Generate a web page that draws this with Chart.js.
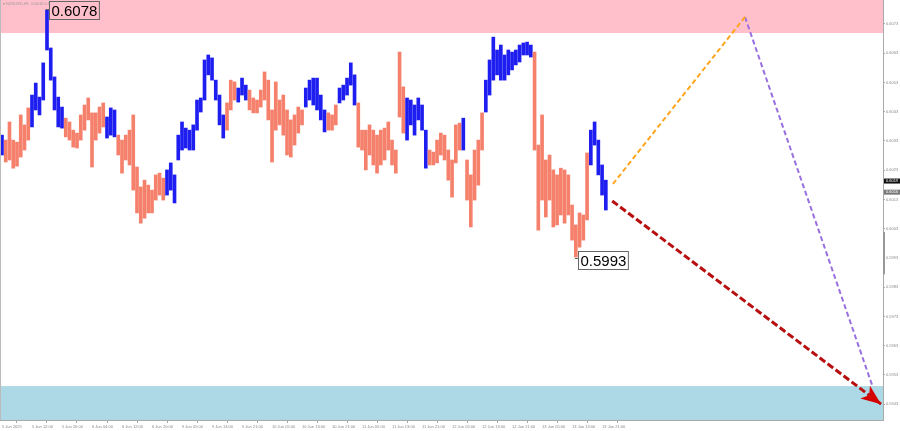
<!DOCTYPE html>
<html><head><meta charset="utf-8">
<script src="https://cdn.jsdelivr.net/npm/chart.js@4.4.1/dist/chart.umd.min.js"></script>
<style>html,body{margin:0;padding:0;background:#fff;overflow:hidden}#wrap{width:900px;height:431px;position:relative}</style>
</head><body><div id="wrap"><canvas id="c" width="900" height="431"></canvas></div>
<script>
// ---- data (NZDUSD H1) ----
const highs = [
0.60350,0.60333,0.60395,0.60333,0.60326,0.60419,0.60385,0.60443,0.60487,0.60528,
0.60480,0.60597,0.60778,0.60648,0.60549,0.60480,0.60446,0.60408,0.60395,0.60367,
0.60357,0.60419,0.60453,0.60477,0.60426,0.60426,0.60446,0.60460,0.60412,0.60443,
0.60436,0.60350,0.60333,0.60350,0.60367,0.60419,0.60241,0.60173,0.60196,0.60179,
0.60162,0.60214,0.60220,0.60203,0.60231,0.60255,0.60214,0.60350,0.60395,0.60374,
0.60367,0.60385,0.60470,0.60477,0.60607,0.60624,0.60614,0.60538,0.60487,0.60419,
0.60460,0.60538,0.60532,0.60511,0.60545,0.60521,0.60504,0.60477,0.60470,0.60504,
0.60566,0.60538,0.60436,0.60532,0.60470,0.60487,0.60436,0.60402,0.60419,0.60446,
0.60436,0.60511,0.60538,0.60545,0.60545,0.60487,0.60436,0.60426,0.60419,0.60453,
0.60511,0.60521,0.60545,0.60597,0.60556,0.60460,0.60367,0.60367,0.60385,0.60367,
0.60350,0.60367,0.60374,0.60395,0.60333,0.60299,0.60634,0.60515,0.60477,0.60470,
0.60453,0.60477,0.60453,0.60367,0.60299,0.60292,0.60333,0.60357,0.60350,0.60299,
0.60265,0.60385,0.60391,0.60408,0.60265,0.60214,0.60299,0.60333,0.60426,0.60538,
0.60607,0.60685,0.60641,0.60658,0.60624,0.60641,0.60634,0.60641,0.60658,0.60665,
0.60668,0.60658,0.60634,0.60316,0.60419,0.60265,0.60282,0.60231,0.60214,0.60237,
0.60231,0.60214,0.60111,0.60043,0.60084,0.60077,0.60289,0.60367,0.60395,0.60333,
0.60248,0.60196];
const lows = [
0.60282,0.60258,0.60265,0.60237,0.60244,0.60275,0.60299,0.60333,0.60378,0.60436,
0.60419,0.60470,0.60641,0.60538,0.60436,0.60378,0.60374,0.60344,0.60333,0.60309,
0.60306,0.60333,0.60367,0.60402,0.60241,0.60333,0.60357,0.60378,0.60340,0.60350,
0.60344,0.60282,0.60220,0.60265,0.60248,0.60162,0.60084,0.60049,0.60066,0.60084,
0.60084,0.60128,0.60145,0.60128,0.60145,0.60162,0.60118,0.60265,0.60299,0.60306,
0.60299,0.60299,0.60367,0.60429,0.60470,0.60556,0.60538,0.60470,0.60385,0.60340,
0.60367,0.60436,0.60470,0.60463,0.60487,0.60470,0.60436,0.60426,0.60426,0.60446,
0.60470,0.60402,0.60258,0.60367,0.60385,0.60350,0.60282,0.60275,0.60316,0.60357,
0.60385,0.60446,0.60470,0.60453,0.60436,0.60402,0.60361,0.60367,0.60367,0.60385,
0.60460,0.60470,0.60487,0.60521,0.60453,0.60309,0.60299,0.60231,0.60282,0.60248,
0.60220,0.60248,0.60265,0.60299,0.60248,0.60220,0.60412,0.60357,0.60333,0.60385,
0.60350,0.60402,0.60367,0.60237,0.60248,0.60248,0.60255,0.60282,0.60265,0.60196,
0.60138,0.60255,0.60299,0.60299,0.60128,0.60036,0.60128,0.60179,0.60299,0.60429,
0.60487,0.60538,0.60556,0.60538,0.60538,0.60556,0.60573,0.60590,0.60600,0.60624,
0.60624,0.60617,0.60299,0.60025,0.60128,0.60070,0.60128,0.60036,0.60043,0.60077,
0.60049,0.60077,0.59991,0.59933,0.59967,0.59991,0.60060,0.60248,0.60316,0.60214,
0.60145,0.60094];
// wave colouring of each bar: B = rising wave (blue), S = falling wave (salmon)
const waveDir = ("B" + "SSSSSSS" + "BBBBBBBBB" + "SSSSSSSSSSS" + "BBB" + "SSSSSSSSSSSSS" +
  "BBBBBBBBBBBBBBBB" + "SSS" + "BBB" + "SSSSSSSSSSSSSSS" + "BBBBBB" + "SSS" + "BBBBB" +
  "SSSSSSSSSSSSS" + "BBBBBB" + "SSSSSSSSS" + "B" + "SSSSS" + "BBBBBBBBBBBBB" +
  "SSSSSSSSSSSSSSS" + "BBBBB").split('');

const xTickIndex = [0,8,16,24,32,40,48,56,64,72,80,88,96,104,112,120,128,136,144,152,160];
const xTickLabels = ["5 Jun 2025","5 Jun 12:00","5 Jun 20:00","6 Jun 04:00","6 Jun 12:00","6 Jun 20:00",
  "9 Jun 05:00","9 Jun 13:00","9 Jun 21:00","10 Jun 05:00","10 Jun 13:00","10 Jun 21:00",
  "11 Jun 05:00","11 Jun 13:00","11 Jun 21:00","12 Jun 05:00","12 Jun 13:00","12 Jun 21:00",
  "13 Jun 05:00","13 Jun 13:00","13 Jun 21:00"];
const priceTicks = [0.5943,0.5953,0.5963,0.5973,0.5983,0.5993,0.6003,0.6013,0.6023,0.6033,0.6043,0.6053,0.6063,0.6073];

const forecastUpX = [162.9, 198.1];   const forecastUpY = [0.60183, 0.60754];
const forecastDownX = [198.1, 232.0]; const forecastDownY = [0.60754, 0.59495];
const mainTargetX = [162.7, 234.4];   const mainTargetY = [0.60125, 0.59430];

const resistanceZone = [0.60699, 0.60812];
const supportZone = [0.59376, 0.59492];
const extremeIdx = [12, 153];
const extremeVal = [0.6078, 0.5993];
const axisPrices = [0.60193, 0.60155];
const axisPriceLabels = ["0.6019", "0.6016"];
const titleText = "\u25BE NZDUSD,H1  0.6016 0.6017 0.6014 0.6016";

const X_MIN = -0.53, X_MAX = 234.9, Y_MIN = 0.59376, Y_MAX = 0.60812;

// ---- plugins ----
const zonesPlugin = {
  id: 'zones',
  beforeDatasetsDraw(chart) {
    const {ctx, chartArea: a, scales: {y}} = chart;
    ctx.save();
    ctx.beginPath(); ctx.rect(a.left, a.top, a.right - a.left, a.bottom - a.top); ctx.clip();
    let t = y.getPixelForValue(resistanceZone[1]), b = y.getPixelForValue(resistanceZone[0]);
    ctx.fillStyle = '#ffc0cb'; ctx.fillRect(a.left, t, a.right - a.left, b - t);
    t = y.getPixelForValue(supportZone[1]); b = y.getPixelForValue(supportZone[0]);
    ctx.fillStyle = '#add8e6'; ctx.fillRect(a.left, t, a.right - a.left, b - t);
    ctx.fillStyle = '#999';
    ctx.font = '4px "Liberation Sans", Arial, sans-serif';
    ctx.textBaseline = 'middle'; ctx.textAlign = 'left';
    ctx.fillText(titleText, a.left + 3, a.top + 4);
    ctx.restore();
  },
  afterDatasetsDraw(chart) {
    const {ctx, chartArea: a, scales: {x, y}} = chart;
    ctx.save();
    // arrow head
    const x0 = x.getPixelForValue(mainTargetX[0]), y0 = y.getPixelForValue(mainTargetY[0]);
    const x1 = x.getPixelForValue(mainTargetX[1]), y1 = y.getPixelForValue(mainTargetY[1]);
    const dx = x1 - x0, dy = y1 - y0, L = Math.hypot(dx, dy), ux = dx / L, uy = dy / L;
    const hl = 20, hw = 8;
    ctx.fillStyle = '#d40000';
    ctx.beginPath();
    ctx.moveTo(x1, y1);
    ctx.lineTo(x1 - ux * hl - uy * hw, y1 - uy * hl + ux * hw);
    ctx.lineTo(x1 - ux * hl * 0.75, y1 - uy * hl * 0.75);
    ctx.lineTo(x1 - ux * hl + uy * hw, y1 - uy * hl - ux * hw);
    ctx.closePath(); ctx.fill();
    // extreme labels
    ctx.font = '15px "Liberation Sans", Arial, sans-serif';
    ctx.textBaseline = 'middle'; ctx.textAlign = 'left';
    extremeIdx.forEach((idx, k) => {
      const px = x.getPixelForValue(idx), py = y.getPixelForValue(extremeVal[k]);
      const txt = extremeVal[k].toFixed(4);
      const w = ctx.measureText(txt).width + 4, h = 18;
      const bx = Math.round(px + 2) + 0.5, cy = k === 0 ? py + 1 : py + 2;
      const by = Math.round(cy - h / 2) + 0.5;
      ctx.fillStyle = k === 0 ? '#ffc0cb' : '#ffffff';
      ctx.fillRect(bx, by, w, h);
      ctx.strokeStyle = '#666'; ctx.lineWidth = 1;
      ctx.strokeRect(bx, by, w, h);
      ctx.beginPath(); ctx.moveTo(px - 1, Math.round(py) + 0.5); ctx.lineTo(bx, Math.round(py) + 0.5); ctx.stroke();
      ctx.fillStyle = '#000';
      ctx.fillText(txt, bx + 2, by + h / 2 + 1);
    });
    ctx.restore();
  },
  afterDraw(chart) {
    const {ctx, chartArea: a, scales: {y}} = chart;
    ctx.save();
    ctx.font = '4px "Liberation Sans", Arial, sans-serif';
    ctx.textBaseline = 'middle'; ctx.textAlign = 'left';
    axisPrices.forEach((p, k) => {
      const py = y.getPixelForValue(p);
      ctx.fillStyle = k === 0 ? '#111' : '#777';
      ctx.fillRect(a.right + 1, py - 2.5, 16, 5);
      ctx.fillStyle = '#fff';
      ctx.fillText(axisPriceLabels[k], a.right + 3, py);
    });
    ctx.fillStyle = '#999';
    ctx.fillRect(a.right, y.getPixelForValue(0.60019), 2, y.getPixelForValue(0.59874) - y.getPixelForValue(0.60019));
    ctx.fillStyle = '#bbb';
    ctx.fillRect(0, a.top, 1, a.bottom - a.top);
    ctx.restore();
  }
};

const barData = highs.map((h, i) => ({x: i, y: [lows[i], h]}));
const barColors = waveDir.map(d => d === 'B' ? '#1e1ef0' : '#f5806c');

new Chart(document.getElementById('c'), {
  type: 'bar',
  data: {
    datasets: [
      {type: 'line', data: forecastUpX.map((v, i) => ({x: v, y: forecastUpY[i]})), borderColor: '#ffa41b', borderWidth: 2, borderDash: [5, 3], pointRadius: 0, order: 0},
      {type: 'line', data: forecastDownX.map((v, i) => ({x: v, y: forecastDownY[i]})), borderColor: '#9a6fe0', borderWidth: 2, borderDash: [5, 3], pointRadius: 0, order: 0},
      {type: 'line', data: mainTargetX.map((v, i) => ({x: v, y: mainTargetY[i]})), borderColor: '#b81010', borderWidth: 3, borderDash: [7, 3], pointRadius: 0, order: 0},
      {type: 'bar', data: barData, backgroundColor: barColors, borderWidth: 0, barThickness: 3, minBarLength: 2, order: 1}
    ]
  },
  options: {
    responsive: false, animation: false, events: [],
    layout: {padding: 0},
    plugins: {legend: {display: false}, tooltip: {enabled: false}},
    scales: {
      x: {
        type: 'linear', min: X_MIN, max: X_MAX, offset: false, bounds: 'data',
        grid: {display: true, drawOnChartArea: false, drawTicks: true, tickLength: 3, color: '#aaa'},
        border: {display: true, color: '#aaa'},
        ticks: {autoSkip: false, maxRotation: 0, minRotation: 0, align: 'start', padding: 1,
          font: {size: 4, family: '"Liberation Sans", Arial, sans-serif'}, color: '#888',
          callback: (v, i) => xTickLabels[i]},
        afterBuildTicks: s => { s.ticks = xTickIndex.map(v => ({value: v})); },
        afterFit: s => { s.height = 11; s.paddingLeft = 0; s.paddingRight = 0; }
      },
      y: {
        type: 'linear', position: 'right', min: Y_MIN, max: Y_MAX, bounds: 'data',
        grid: {display: true, drawOnChartArea: false, drawTicks: true, tickLength: 2, color: '#aaa'},
        border: {display: true, color: '#aaa'},
        ticks: {padding: 1, font: {size: 4, family: '"Liberation Sans", Arial, sans-serif'}, color: '#888',
          callback: v => Number(v).toFixed(4)},
        afterBuildTicks: s => { s.ticks = priceTicks.map(v => ({value: v})); },
        afterFit: s => { s.width = 17; s.paddingTop = 0; s.paddingBottom = 0; }
      }
    }
  },
  plugins: [zonesPlugin]
});
</script>
</body></html>
